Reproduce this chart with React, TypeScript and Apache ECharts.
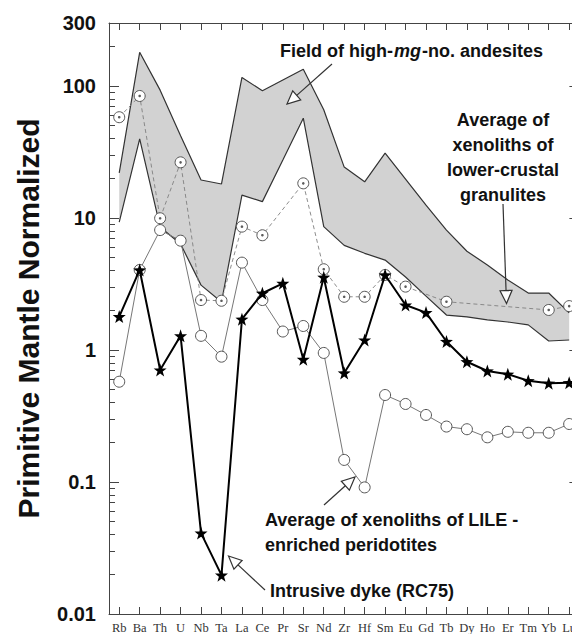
import React, { useEffect, useRef } from "react";
import * as echarts from "echarts";

// Trace elements, primitive-mantle normalized
const elements = [
  "Rb", "Ba", "Th", "U", "Nb", "Ta", "La", "Ce", "Pr", "Sr", "Nd", "Zr",
  "Hf", "Sm", "Eu", "Gd", "Tb", "Dy", "Ho", "Er", "Tm", "Yb", "Lu",
];

// Field of high-mg-no. andesites: upper and lower envelopes
const andesiteUpper = [
  22, 180, 93, 42, 19.4, 18.1, 116, 92, 111, 134, 66, 24.3,
  18.8, 31, 19.7, 12.5, 8.1, 5.6, 4.4, 3.39, 2.7, 2.7, 1.91,
];
const andesiteLower = [
  9.3, 39.7, 8.55, 6.35, 3.1, 2.31, 14.9, 13.3, 27.5, 57, 8.6, 6.2,
  5.4, 4.8, 3.57, 2.56, 1.84, 1.78, 1.69, 1.63, 1.55, 1.17, 1.19,
];

// Average of xenoliths of lower-crustal granulites
const granulites = [
  58, 84, 9.95, 26.4, 2.39, 2.36, 8.6, 7.4, null, 18.3, 4.09, 2.53,
  2.53, 3.7, 3.02, null, 2.32, null, null, null, null, 2.01, 2.15,
];

// Intrusive dyke (RC75)
const dykeRC75 = [
  1.79, 4.04, 0.705, 1.28, 0.041, 0.0197, 1.71, 2.69, 3.2, 0.85, 3.56, 0.67,
  1.19, 3.7, 2.19, 1.92, 1.16, 0.815, 0.693, 0.655, 0.585, 0.56, 0.565,
];

// Average of xenoliths of LILE-enriched peridotites
const lilePeridotites = [
  0.575, 4.04, 8.1, 6.73, 1.28, 0.89, 4.59, 2.39, 1.38, 1.52, 0.95, 0.147,
  0.091, 0.456, 0.39, 0.322, 0.263, 0.251, 0.218, 0.24, 0.236, 0.236, 0.275,
];

// Y axis ticks
const yTickValues = [0.01, 0.1, 1, 10, 100, 300];
const yTickLabels = ["0.01", "0.1", "1", "10", "100", "300"];
const yMinorValues = [
  0.02, 0.03, 0.04, 0.05, 0.06, 0.07, 0.08, 0.09,
  0.2, 0.3, 0.4, 0.5, 0.6, 0.7, 0.8, 0.9,
  2, 3, 4, 5, 6, 7, 8, 9,
  20, 30, 40, 50, 60, 70, 80, 90,
  200,
];

const FONT = "'Liberation Sans', Arial, Helvetica, sans-serif";
const SERIF = "'Liberation Serif', 'Times New Roman', serif";

const lg = (v: number | null) => (v == null ? null : Math.log10(v));
const Y_MIN = Math.log10(yTickValues[0]);
const Y_MAX = Math.log10(yTickValues[yTickValues.length - 1]);

const STAR =
  "path://M0,-10L2.35,-3.24L9.51,-3.09L3.8,1.24L5.88,8.09L0,4L-5.88,8.09L-3.8,1.24L-9.51,-3.09L-2.35,-3.24Z";

// Pointer with an open triangular head, from (x1,y1) to the tip (x2,y2)
function arrow(x1: number, y1: number, x2: number, y2: number) {
  const dx = x2 - x1;
  const dy = y2 - y1;
  const len = Math.hypot(dx, dy);
  const ux = dx / len;
  const uy = dy / len;
  const hl = 13;
  const hw = 6;
  const bx = x2 - ux * hl;
  const by = y2 - uy * hl;
  return [
    {
      type: "line",
      z: 100,
      shape: { x1, y1, x2: bx, y2: by },
      style: { stroke: "#333", lineWidth: 1.2 },
    },
    {
      type: "polygon",
      z: 100,
      shape: {
        points: [
          [x2, y2],
          [bx - uy * hw, by + ux * hw],
          [bx + uy * hw, by - ux * hw],
        ],
      },
      style: { fill: "#fff", stroke: "#333", lineWidth: 1.2 },
    },
  ];
}

const labelStyle = {
  font: `bold 18px ${FONT}`,
  fill: "#111",
};

export default function App() {
  const ref = useRef<HTMLDivElement>(null);

  useEffect(() => {
    if (!ref.current) return;
    const chart = echarts.init(ref.current, undefined, { renderer: "svg" });

    const tickLine = { color: "#444", width: 1 };
    const majorLog = yTickValues.map((v) => Math.log10(v));
    const minorLog = yMinorValues.map((v) => Math.log10(v));

    const yMajor = (showLabel: boolean, position: string) => ({
      type: "value",
      position,
      min: Y_MIN,
      max: Y_MAX,
      axisLine: { show: true, onZero: false, lineStyle: tickLine },
      splitLine: { show: false },
      axisTick: {
        show: true,
        inside: true,
        length: 10,
        customValues: majorLog,
        lineStyle: tickLine,
      },
      axisLabel: {
        show: showLabel,
        customValues: majorLog,
        margin: 13,
        fontFamily: FONT,
        fontSize: 20,
        fontWeight: "bold",
        color: "#111",
        formatter: (val: number) => {
          const i = majorLog.findIndex((t) => Math.abs(t - val) < 1e-6);
          return i >= 0 ? yTickLabels[i] : "";
        },
      },
    });

    const yMinor = (position: string) => ({
      type: "value",
      position,
      min: Y_MIN,
      max: Y_MAX,
      axisLine: { show: false, onZero: false },
      splitLine: { show: false },
      axisLabel: { show: false },
      axisTick: {
        show: true,
        inside: true,
        length: 6,
        customValues: minorLog,
        lineStyle: tickLine,
      },
    });

    const xAxisBase = (position: string, showLabel: boolean) => ({
      type: "category",
      data: elements,
      position,
      boundaryGap: true,
      axisLine: { show: true, onZero: false, lineStyle: tickLine },
      axisTick: {
        show: true,
        inside: true,
        length: 7,
        alignWithLabel: true,
        interval: 0,
        lineStyle: tickLine,
      },
      axisLabel: {
        show: showLabel,
        interval: 0,
        margin: 7,
        fontFamily: SERIF,
        fontSize: 12.5,
        color: "#333",
      },
      splitLine: { show: false },
    });

    const yLeft: any = yMajor(true, "left");
    yLeft.name = "Primitive Mantle Normalized";
    yLeft.nameLocation = "middle";
    yLeft.nameGap = 66;
    yLeft.nameTextStyle = {
      fontFamily: FONT,
      fontSize: 30,
      fontWeight: "bold",
      color: "#111",
    };

    const option: any = {
      animation: false,
      backgroundColor: "#fff",
      grid: { left: 109, top: 23, right: 20.6, bottom: 20, containLabel: false },
      xAxis: [xAxisBase("bottom", true), xAxisBase("top", false)],
      yAxis: [yLeft, yMajor(false, "right"), yMinor("left"), yMinor("right")],
      series: [
        {
          name: "andesite lower",
          type: "line",
          stack: "field",
          stackStrategy: "all",
          data: andesiteLower.map(lg),
          symbol: "none",
          lineStyle: { color: "#333", width: 1.2 },
          z: 3,
        },
        {
          name: "Field of high-mg-no. andesites",
          type: "line",
          stack: "field",
          stackStrategy: "all",
          data: andesiteUpper.map((u, i) => Math.log10(u) - Math.log10(andesiteLower[i])),
          symbol: "none",
          lineStyle: { color: "#333", width: 1.2 },
          areaStyle: { color: "#d2d2d2", opacity: 1 },
          z: 2,
        },
        {
          name: "Lower-crustal granulites",
          type: "line",
          data: granulites.map(lg),
          connectNulls: true,
          symbol: "circle",
          symbolSize: 11,
          itemStyle: { color: "#fff", borderColor: "#555", borderWidth: 1 },
          lineStyle: { color: "#808080", width: 0.9, type: [4, 3] },
          z: 4,
        },
        {
          name: "granulite centres",
          type: "scatter",
          data: granulites.map((v) => (v == null ? "-" : Math.log10(v))),
          symbolSize: 2.6,
          itemStyle: { color: "#333" },
          z: 5,
        },
        {
          name: "LILE-enriched peridotites",
          type: "line",
          data: lilePeridotites.map(lg),
          symbol: "circle",
          symbolSize: 11,
          itemStyle: { color: "#fff", borderColor: "#555", borderWidth: 1 },
          lineStyle: { color: "#777", width: 1 },
          z: 6,
        },
        {
          name: "Intrusive dyke (RC75)",
          type: "line",
          data: dykeRC75.map(lg),
          symbol: STAR,
          symbolSize: 13,
          itemStyle: { color: "#000" },
          lineStyle: { color: "#000", width: 2 },
          z: 7,
        },
      ],
      graphic: [
        {
          type: "text",
          z: 100,
          x: 280,
          y: 51,
          style: {
            text: "{b|Field of high-}{i|mg}{b|-no. andesites}",
            textVerticalAlign: "middle",
            rich: {
              b: { font: `bold 18px ${FONT}`, fill: "#111" },
              i: { font: `italic bold 18px ${FONT}`, fill: "#111", padding: [0, 1] },
            },
          },
        },
        ...arrow(332, 64, 287, 104),
        {
          type: "text",
          z: 100,
          x: 503,
          y: 157.5,
          style: {
            ...labelStyle,
            text: "Average of\nxenoliths of\nlower-crustal\ngranulites",
            textAlign: "center",
            textVerticalAlign: "middle",
            lineHeight: 25,
          },
        },
        ...arrow(503, 204, 506.5, 303.5),
        {
          type: "text",
          z: 100,
          x: 265,
          y: 532.5,
          style: {
            ...labelStyle,
            text: "Average of xenoliths of LILE -\nenriched peridotites",
            textAlign: "left",
            textVerticalAlign: "middle",
            lineHeight: 25,
          },
        },
        ...arrow(324, 505, 355, 477),
        {
          type: "text",
          z: 100,
          x: 270,
          y: 591,
          style: {
            ...labelStyle,
            text: "Intrusive dyke (RC75)",
            textAlign: "left",
            textVerticalAlign: "middle",
          },
        },
        ...arrow(265, 590, 228.5, 556),
      ],
    };

    chart.setOption(option);
    return () => chart.dispose();
  }, []);

  return (
    <div
      style={{
        position: "fixed",
        left: 0,
        top: 0,
        width: 572,
        height: 634,
        overflow: "hidden",
        background: "#fff",
      }}
    >
      <div ref={ref} style={{ width: 600, height: 634 }} />
    </div>
  );
}
